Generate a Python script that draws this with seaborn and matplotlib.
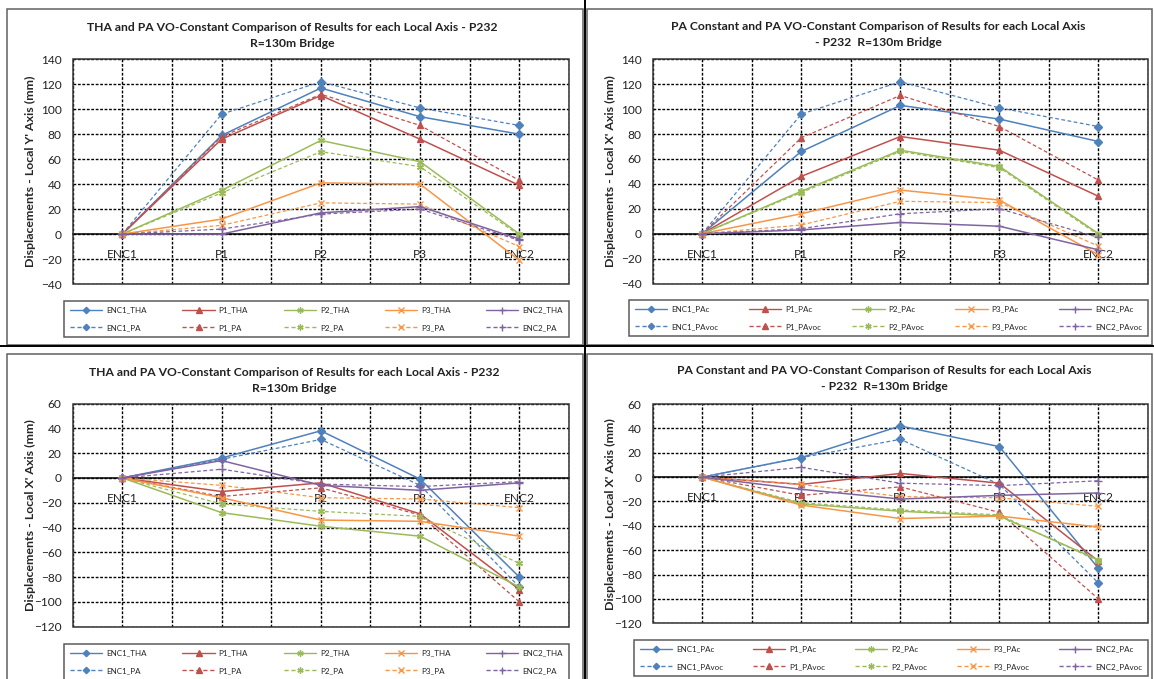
import matplotlib
matplotlib.use("Agg")
import matplotlib.pyplot as plt
from matplotlib.lines import Line2D
from matplotlib.patches import Rectangle
import pandas as pd
import seaborn as sns

# ---------------------------------------------------------------- data
categories = ["ENC1", "P1", "P2", "P3", "ENC2"]
locations = ["ENC1", "P1", "P2", "P3", "ENC2"]

# Local Y' axis: THA vs PA (VO-constant)
y_enc1_tha = [0, 79, 117, 94, 80]
y_p1_tha = [0, 76, 111, 76, 39]
y_p2_tha = [0, 35, 75, 58, 0]
y_p3_tha = [0, 12, 41, 40, -21]
y_enc2_tha = [0, 0, 17, 22, -4]
y_enc1_pa = [0, 96, 122, 101, 87]
y_p1_pa = [0, 78, 112, 87, 43]
y_p2_pa = [0, 33, 66, 54, -1]
y_p3_pa = [0, 7, 25, 24, -10]
y_enc2_pa = [0, 4, 16, 20, -5]

# Local X' axis (upper right): PA constant vs PA VO-constant
yb_enc1_pac = [0, 66, 103, 92, 74]
yb_p1_pac = [0, 46, 78, 67, 30]
yb_p2_pac = [0, 34, 67, 54, 0]
yb_p3_pac = [0, 16, 35, 27, -17]
yb_enc2_pac = [0, 3, 9, 6, -13]
yb_enc1_pavoc = [0, 96, 122, 101, 86]
yb_p1_pavoc = [0, 77, 111, 86, 43]
yb_p2_pavoc = [0, 33, 66, 53, -1]
yb_p3_pavoc = [0, 7, 26, 25, -10]
yb_enc2_pavoc = [0, 4, 16, 20, -3]

# Local X' axis: THA vs PA (VO-constant)
x_enc1_tha = [0, 16, 38, -1, -80]
x_p1_tha = [0, -11, -4, -29, -90]
x_p2_tha = [0, -28, -39, -47, -88]
x_p3_tha = [0, -16, -34, -35, -47]
x_enc2_tha = [0, 14, -6, -10, -4]
x_enc1_pa = [0, 15, 31, -6, -88]
x_p1_pa = [0, -15, -8, -30, -100]
x_p2_pa = [0, -21, -27, -31, -69]
x_p3_pa = [0, -6, -16, -17, -24]
x_enc2_pa = [0, 7, -5, -7, -3]

# Local X' axis: PA constant vs PA VO-constant
x_enc1_pac = [0, 16, 42, 25, -75]
x_p1_pac = [0, -6, 3, -5, -69]
x_p2_pac = [0, -22, -28, -32, -68]
x_p3_pac = [0, -23, -34, -32, -41]
x_enc2_pac = [0, -10, -18, -15, -13]
x_enc1_pavoc = [0, 16, 31, -6, -87]
x_p1_pavoc = [0, -15, -8, -29, -100]
x_p2_pavoc = [0, -21, -27, -31, -69]
x_p3_pavoc = [0, -6, -16, -17, -24]
x_enc2_pavoc = [0, 8, -5, -7, -3]

title_tha = "THA and PA VO-Constant Comparison of Results for each Local Axis - P232\nR=130m Bridge"
title_pac = "PA Constant and PA VO-Constant Comparison of Results for each Local Axis\n- P232  R=130m Bridge"
ylabel_y = "Displacements - Local Y' Axis (mm)"
ylabel_x = "Displacements - Local X' Axis (mm)"

# ---------------------------------------------------------------- style
sns.set_style("white")
plt.rcParams["font.family"] = ["Lato", "DejaVu Sans"]

loc_colors = {"ENC1": "#4F81BD", "P1": "#C0504D", "P2": "#9BBB59",
              "P3": "#F79646", "ENC2": "#8064A2"}
loc_markers = {"ENC1": "D", "P1": "^", "P2": (6, 2, 0), "P3": "x", "ENC2": "+"}
loc_msize = {"ENC1": 3.6, "P1": 4.2, "P2": 5.0, "P3": 4.6, "ENC2": 5.6}
DASH = (3, 2)
GRID_LS = (0, (2.0, 1.2))

W, H = 1154, 679
fig = plt.figure(figsize=(W / 100, H / 100), dpi=100)


def fx(px):
    return px / W


def fy(py):
    return 1 - py / H


def draw_panel(box, series, suffixes, ylim, ylabel, title, title_x, title_y,
               legend_box, frame_box):
    x0, y0, x1, y1 = box
    ax = fig.add_axes([fx(x0), fy(y1), fx(x1 - x0), (y1 - y0) / H])

    rows = []
    order = []
    for loc in locations:
        for suf in suffixes:
            name = f"{loc}_{suf}"
            order.append(name)
            for cat, val in zip(categories, series[name]):
                rows.append({"pos": categories.index(cat), "value": val,
                             "series": name})
    df = pd.DataFrame(rows)

    palette = {n: loc_colors[n.split("_")[0]] for n in order}
    dashes = {n: ("" if n.endswith(suffixes[0]) else DASH) for n in order}

    sns.lineplot(data=df, x="pos", y="value", hue="series", style="series",
                 hue_order=order, style_order=order, palette=palette,
                 markers=False, dashes=dashes, legend=False, ax=ax,
                 linewidth=1.1, zorder=3)
    for line, name in zip(ax.get_lines(), order):
        c = line.get_color()
        loc = name.split("_")[0]
        line.set_marker(loc_markers[loc])
        line.set_markeredgecolor(c)
        line.set_markerfacecolor(c)
        line.set_markersize(loc_msize[loc])
        line.set_markeredgewidth(1.0)
        if not name.endswith(suffixes[0]):
            line.set_linewidth(0.9)

    ax.set_xlim(-0.5, len(categories) - 0.5)
    ax.set_ylim(*ylim)
    ax.set_yticks(range(ylim[0], ylim[1] + 1, 20))
    ax.set_xticks(range(len(categories)))
    ax.set_xticks([i - 0.5 for i in range(len(categories) + 1)], minor=True)
    ax.set_xticklabels(categories)
    ax.grid(True, which="both", axis="x", color="black",
            linestyle=GRID_LS, linewidth=1.0)
    ax.grid(True, which="major", axis="y", color="black",
            linestyle=GRID_LS, linewidth=1.0)
    ax.set_axisbelow(True)

    for side in ("top", "right", "left"):
        ax.spines[side].set_visible(False)
    ax.spines["bottom"].set_position(("data", 0))
    ax.spines["bottom"].set_color("black")
    ax.spines["bottom"].set_linewidth(1.1)
    ax.spines["bottom"].set_zorder(2.5)
    ax.add_patch(Rectangle((0, 0), 1, 1, transform=ax.transAxes, fill=False,
                           edgecolor="#333333", linewidth=1.1, clip_on=False,
                           zorder=4))

    ax.tick_params(axis="x", which="both", length=0, pad=11, labelsize=8.6,
                   labelcolor="#222222")
    ax.tick_params(axis="y", length=0, pad=8, labelsize=8.6,
                   labelcolor="#222222")
    ax.set_xlabel("")
    ax.set_ylabel(ylabel, fontsize=8.9, fontweight="bold")
    ax.yaxis.set_label_coords(-0.074, 0.5)

    fig.text(fx(title_x), fy(title_y), title, ha="center", va="center",
             fontsize=8.7, fontweight="bold", color="#222222", linespacing=1.45)

    handles = []
    labels = []
    for name in order:
        loc = name.split("_")[0]
        ls = "-" if name.endswith(suffixes[0]) else (0, DASH)
        handles.append(Line2D([], [], color=loc_colors[loc], linestyle=ls,
                              linewidth=1.0, marker=loc_markers[loc],
                              markersize=loc_msize[loc] * 0.9,
                              markeredgecolor=loc_colors[loc],
                              markerfacecolor=loc_colors[loc]))
        labels.append(name)
    lx0, ly0, lx1, ly1 = legend_box
    leg = ax.legend(handles, labels, loc="center",
                    bbox_to_anchor=(fx(lx0), fy(ly1), fx(lx1 - lx0), (ly1 - ly0) / H),
                    bbox_transform=fig.transFigure, mode="expand", ncol=5,
                    fontsize=5.8, handlelength=4.0, handletextpad=0.5,
                    labelspacing=1.3, borderpad=0.75, borderaxespad=0,
                    fancybox=False, frameon=True)
    leg.get_frame().set_edgecolor("#333333")
    leg.get_frame().set_linewidth(1.1)

    fxa, fya, fxb, fyb = frame_box
    fig.add_artist(Rectangle((fx(fxa), fy(fyb)), fx(fxb - fxa), (fyb - fya) / H,
                             transform=fig.transFigure, fill=False,
                             edgecolor="#606060", linewidth=1.1))
    return ax


series_a = {"ENC1_THA": y_enc1_tha, "P1_THA": y_p1_tha, "P2_THA": y_p2_tha,
            "P3_THA": y_p3_tha, "ENC2_THA": y_enc2_tha,
            "ENC1_PA": y_enc1_pa, "P1_PA": y_p1_pa, "P2_PA": y_p2_pa,
            "P3_PA": y_p3_pa, "ENC2_PA": y_enc2_pa}
series_b = {"ENC1_PAc": yb_enc1_pac, "P1_PAc": yb_p1_pac, "P2_PAc": yb_p2_pac,
            "P3_PAc": yb_p3_pac, "ENC2_PAc": yb_enc2_pac,
            "ENC1_PAvoc": yb_enc1_pavoc, "P1_PAvoc": yb_p1_pavoc,
            "P2_PAvoc": yb_p2_pavoc, "P3_PAvoc": yb_p3_pavoc,
            "ENC2_PAvoc": yb_enc2_pavoc}
series_c = {"ENC1_THA": x_enc1_tha, "P1_THA": x_p1_tha, "P2_THA": x_p2_tha,
            "P3_THA": x_p3_tha, "ENC2_THA": x_enc2_tha,
            "ENC1_PA": x_enc1_pa, "P1_PA": x_p1_pa, "P2_PA": x_p2_pa,
            "P3_PA": x_p3_pa, "ENC2_PA": x_enc2_pa}
series_d = {"ENC1_PAc": x_enc1_pac, "P1_PAc": x_p1_pac, "P2_PAc": x_p2_pac,
            "P3_PAc": x_p3_pac, "ENC2_PAc": x_enc2_pac,
            "ENC1_PAvoc": x_enc1_pavoc, "P1_PAvoc": x_p1_pavoc,
            "P2_PAvoc": x_p2_pavoc, "P3_PAvoc": x_p3_pavoc,
            "ENC2_PAvoc": x_enc2_pavoc}

draw_panel((72.7, 59.3, 569, 284), series_a, ("THA", "PA"), (-40, 140),
           ylabel_y, title_tha, 292, 35.5, (64, 300, 569, 338), (7, 9, 582.5, 344.5))
draw_panel((652.7, 59.3, 1148, 283.5), series_b, ("PAc", "PAvoc"), (-40, 140),
           ylabel_x, title_pac, 878, 34.5, (629, 299, 1148, 337), (587, 9, 1152, 344.5))
draw_panel((72.7, 403.5, 569, 626.7), series_c, ("THA", "PA"), (-120, 60),
           ylabel_x, title_tha, 294, 380.5, (64, 643, 569, 681), (7, 353.5, 582.5, 690))
draw_panel((652.7, 404, 1148, 623.3), series_d, ("PAc", "PAvoc"), (-120, 60),
           ylabel_x, title_pac, 884, 378.5, (634, 639, 1148, 677), (587, 353.5, 1152, 690))

# table rules separating the four charts
fig.add_artist(Line2D([0, 1], [fy(346.2), fy(346.2)], transform=fig.transFigure,
                      color="black", linewidth=1.4))
fig.add_artist(Line2D([fx(584.6), fx(584.6)], [0, 1], transform=fig.transFigure,
                      color="black", linewidth=1.4))

fig.savefig("out.png", dpi=100)
